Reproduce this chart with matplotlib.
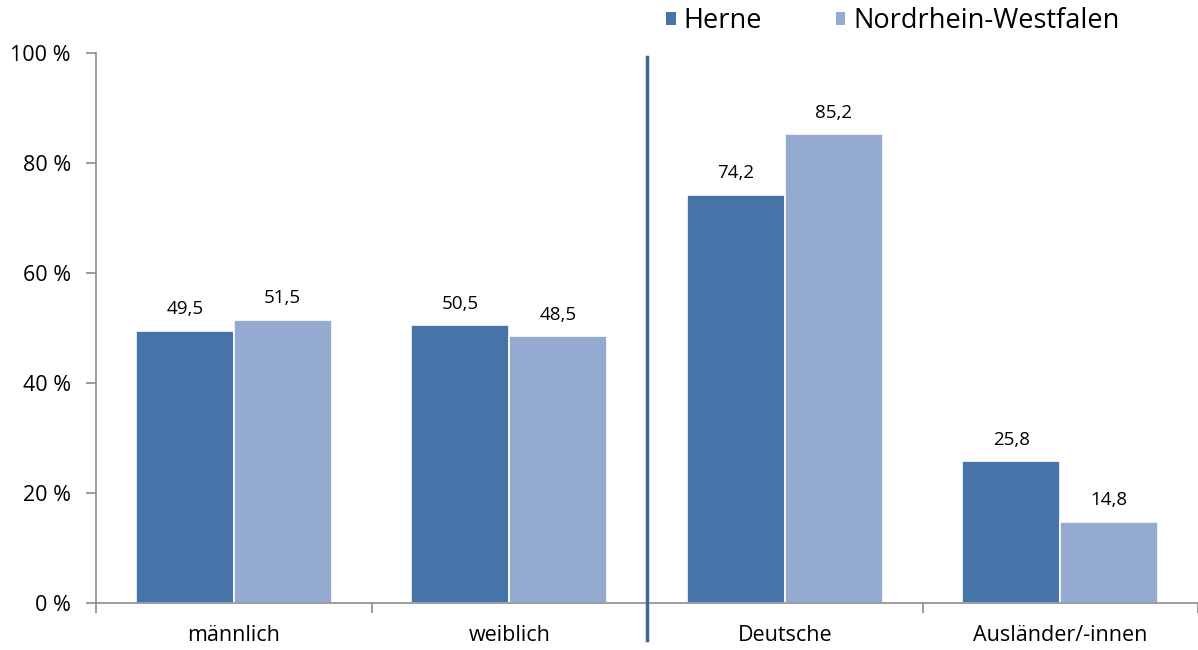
import numpy as np
import matplotlib.pyplot as plt
from matplotlib.patches import Patch

categories = ['männlich', 'weiblich', 'Deutsche', 'Ausländer/-innen']
herne = [49.5, 50.5, 74.2, 25.8]
nrw = [51.5, 48.5, 85.2, 14.8]
series_names = ['Herne', 'Nordrhein-Westfalen']
yticks = [0, 20, 40, 60, 80, 100]

c_herne = '#4673A8'
c_nrw = '#95AAD1'
grey = '#8C8C8C'

plt.rcParams['font.family'] = ['Open Sans', 'DejaVu Sans']

fig = plt.figure(figsize=(11.98, 6.5), dpi=100)
ax = fig.add_axes([96/1198, 47/650, 1 - 96/1198, 550/650])

x = np.arange(len(categories))
w = 0.355
b1 = ax.bar(x - w/2, herne, w, color=c_herne, edgecolor='white', linewidth=1.2)
b2 = ax.bar(x + w/2, nrw, w, color=c_nrw, edgecolor='white', linewidth=1.2)

for bars, vals in ((b1, herne), (b2, nrw)):
    for r, v in zip(bars, vals):
        ax.annotate(f'{v:.1f}'.replace('.', ','), (r.get_x() + r.get_width()/2, v),
                    xytext=(0, 9), textcoords='offset points',
                    ha='center', va='bottom', fontsize=13.5)

ax.set_xlim(-0.5, 3.5)
ax.set_ylim(0, 100)
ax.set_yticks(yticks)
ax.set_yticklabels([f'{t} %' for t in yticks], fontsize=15.5)

ax.set_xticks(x)
ax.set_xticklabels(categories, fontsize=15.5)
ax.set_xticks(np.arange(-0.5, 4, 1), minor=True)
ax.tick_params(axis='x', which='major', length=0, pad=16)
ax.tick_params(axis='x', which='minor', length=7, color=grey, width=1.2)
ax.tick_params(axis='y', length=7, color=grey, width=1.2, pad=11)

for s in ('top', 'right'):
    ax.spines[s].set_visible(False)
for s in ('left', 'bottom'):
    ax.spines[s].set_color(grey)
    ax.spines[s].set_linewidth(1.2)

# separator between sex and nationality groups
ax.plot([1.5, 1.5], [-0.067, 0.993], transform=ax.get_xaxis_transform(),
        color='#3D6699', linewidth=2.5, clip_on=False, zorder=5)

handles = [Patch(facecolor=c_herne), Patch(facecolor=c_nrw)]
fig.legend(handles, series_names, loc='center left', bbox_to_anchor=(666/1198, 1 - 21/650),
           ncol=2, frameon=False, fontsize=19.5, handlelength=0.36, handleheight=0.36,
           handletextpad=0.3, columnspacing=2.7, borderaxespad=0, borderpad=0)

fig.savefig('out.png', dpi=100)
